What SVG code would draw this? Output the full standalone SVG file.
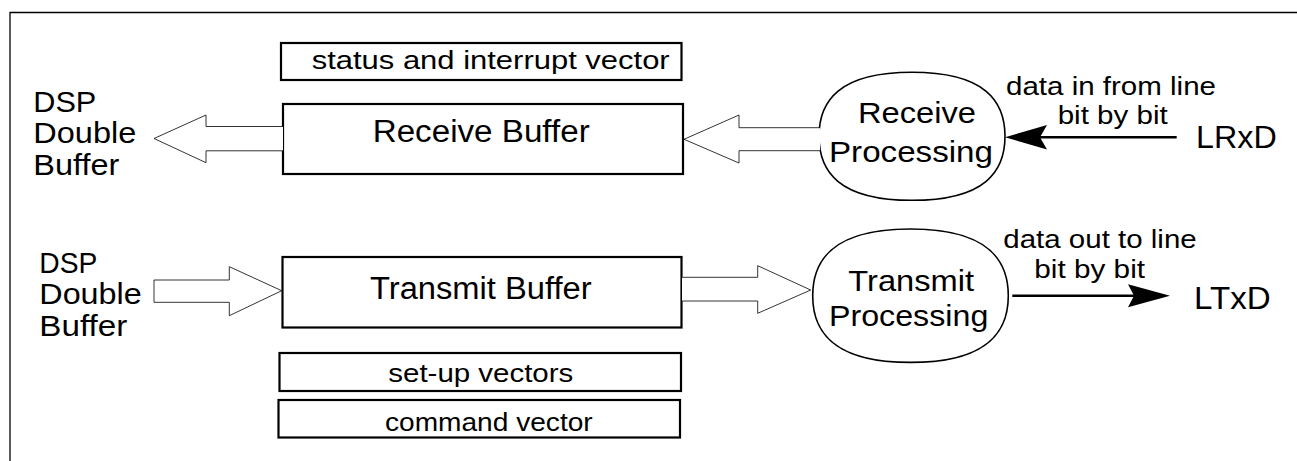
<svg xmlns="http://www.w3.org/2000/svg" width="1297" height="461" viewBox="0 0 1297 461">
<style>
text{font-family:"Liberation Sans",Arial,Helvetica,sans-serif;fill:#000;lengthAdjust:spacingAndGlyphs}
.box{fill:#fff;stroke:#000;stroke-width:2.2}
.proc{fill:#fff;stroke:#000;stroke-width:1.6}
.hollow{fill:#fff;stroke:#000;stroke-width:0.8;stroke-linejoin:miter}
.line{fill:none;stroke:#000;stroke-width:2.4}
.head{fill:#000;stroke:none}
.s{font-size:25px}
.m{font-size:30px}
.l{font-size:31px}
</style>
<rect width="1297" height="461" fill="#fff"/>
<path d="M10,461 V12.5 H1297" fill="none" stroke="#000" stroke-width="1.3"/>

<g id="dsp-out">
<text class="m" x="33.3" y="111.5" textLength="63" lengthAdjust="spacingAndGlyphs">DSP</text>
<text class="m" x="33.3" y="143" textLength="103" lengthAdjust="spacingAndGlyphs">Double</text>
<text class="m" x="33.3" y="174.5" textLength="86" lengthAdjust="spacingAndGlyphs">Buffer</text>
</g>
<g id="dsp-in">
<text class="m" x="39.3" y="272.5" textLength="58" lengthAdjust="spacingAndGlyphs">DSP</text>
<text class="m" x="39.3" y="304" textLength="102.4" lengthAdjust="spacingAndGlyphs">Double</text>
<text class="m" x="39.3" y="336" textLength="88" lengthAdjust="spacingAndGlyphs">Buffer</text>
</g>

<g id="status-vector">
<rect class="box" x="281" y="43" width="400.5" height="37"/>
<text class="s" x="311.7" y="69.3" textLength="358" lengthAdjust="spacingAndGlyphs">status and interrupt vector</text>
</g>
<g id="receive-buffer">
<rect class="box" x="283" y="104" width="400" height="70"/>
<text class="l" x="372.7" y="141.7" textLength="217" lengthAdjust="spacingAndGlyphs">Receive Buffer</text>
</g>
<g id="transmit-buffer">
<rect class="box" x="282.5" y="257" width="399" height="70.5"/>
<text class="l" x="370" y="299.3" textLength="221.7" lengthAdjust="spacingAndGlyphs">Transmit Buffer</text>
</g>
<g id="setup-vectors">
<rect class="box" x="279.5" y="353" width="401.5" height="38"/>
<text class="s" x="388.3" y="381.5" textLength="185" lengthAdjust="spacingAndGlyphs">set-up vectors</text>
</g>
<g id="command-vector">
<rect class="box" x="278.5" y="400" width="401.5" height="37.5"/>
<text class="s" x="385" y="430.5" textLength="207.7" lengthAdjust="spacingAndGlyphs">command vector</text>
</g>

<g id="receive-processing">
<path class="proc" d="M819,136.3 C819,101 839,72.3 912,72.3 C985,72.3 1005,101 1005,136.3 C1005,171.6 985,200.3 912,200.3 C839,200.3 819,171.6 819,136.3 Z"/>
<text class="m" x="858" y="123" textLength="118" lengthAdjust="spacingAndGlyphs">Receive</text>
<text class="m" x="829" y="161.7" textLength="164" lengthAdjust="spacingAndGlyphs">Processing</text>
</g>
<g id="transmit-processing">
<path class="proc" d="M812.7,295.7 C812.7,259 834,229 910.5,229 C987,229 1008.3,259 1008.3,295.7 C1008.3,332.4 987,362.4 910.5,362.4 C834,362.4 812.7,332.4 812.7,295.7 Z"/>
<text class="m" x="848.3" y="291" textLength="125.7" lengthAdjust="spacingAndGlyphs">Transmit</text>
<text class="m" x="829" y="325.7" textLength="159.3" lengthAdjust="spacingAndGlyphs">Processing</text>
</g>

<g id="lrxd">
<text class="l" x="1196" y="148.3" textLength="80.7" lengthAdjust="spacingAndGlyphs">LRxD</text>
</g>
<g id="ltxd">
<text class="l" x="1194" y="309" textLength="76.7" lengthAdjust="spacingAndGlyphs">LTxD</text>
</g>

<g id="connectors">
<polyline class="hollow" points="283,126.5 206,126.5 206,115 154,138.5 206,162.7 206,150.8 283,150.8"/>
<polyline class="hollow" points="820,127.7 739,127.7 739,115 684,139.3 739,163 739,150.7 820,150.7"/>
<polygon class="hollow" points="154,280 229.3,280 229.3,266.7 281.7,290.7 229.3,315.7 229.3,302.3 154,302.3"/>
<polyline class="hollow" points="682,277.3 757.7,277.3 757.7,265.7 810.7,290 757.7,313.3 757.7,301 682,301"/>

<line class="line" x1="1176.7" y1="137.3" x2="1040" y2="137.3"/>
<polygon class="head" points="1005,137.3 1047,125 1040,137.3 1047,149.5"/>
<text class="s" x="1006" y="95" textLength="210" lengthAdjust="spacingAndGlyphs">data in from line</text>
<text class="s" x="1057.7" y="124.3" textLength="110" lengthAdjust="spacingAndGlyphs">bit by bit</text>

<line class="line" x1="1012.3" y1="295.7" x2="1134" y2="295.7"/>
<polygon class="head" points="1170,295.7 1128,284.3 1134,295.7 1128,307.3"/>
<text class="s" x="1003.3" y="248.3" textLength="193.4" lengthAdjust="spacingAndGlyphs">data out to line</text>
<text class="s" x="1034.3" y="278.3" textLength="110.7" lengthAdjust="spacingAndGlyphs">bit by bit</text>
</g>
</svg>
